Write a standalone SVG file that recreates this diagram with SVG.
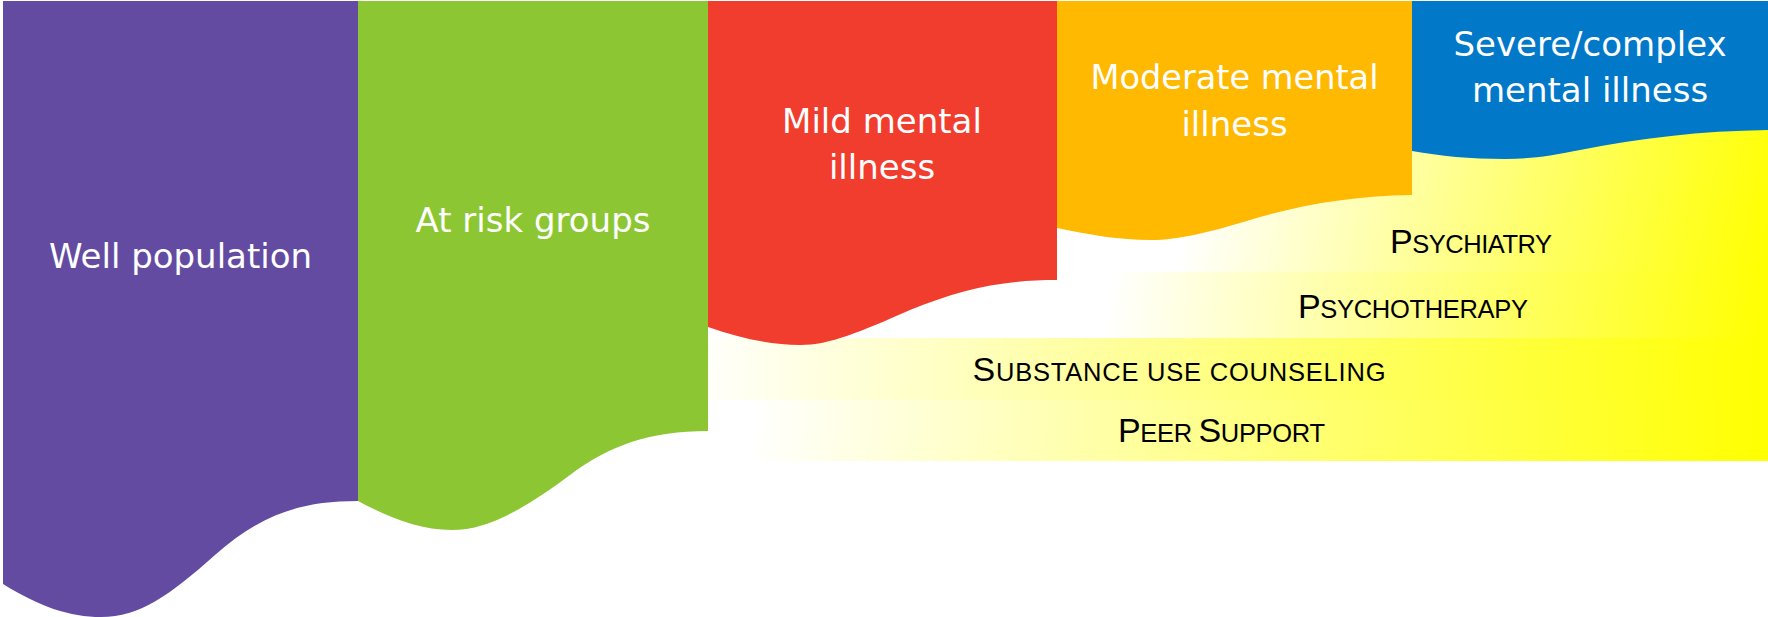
<svg xmlns="http://www.w3.org/2000/svg" width="1768" height="617" viewBox="0 0 1768 617">
  <defs>
    <linearGradient id="g1" gradientUnits="userSpaceOnUse" x1="1200" y1="150" x2="1768" y2="272">
      <stop offset="0" stop-color="#ffffff"/>
      <stop offset="1" stop-color="#ffff00"/>
    </linearGradient>
    <linearGradient id="g2" gradientUnits="userSpaceOnUse" x1="1110" y1="272" x2="1768" y2="338">
      <stop offset="0" stop-color="#ffffff"/>
      <stop offset="1" stop-color="#ffff00"/>
    </linearGradient>
    <linearGradient id="g3" gradientUnits="userSpaceOnUse" x1="690" y1="338" x2="1768" y2="400">
      <stop offset="0" stop-color="#ffffff"/>
      <stop offset="1" stop-color="#ffff00"/>
    </linearGradient>
    <linearGradient id="g4" gradientUnits="userSpaceOnUse" x1="750" y1="400" x2="1768" y2="461">
      <stop offset="0" stop-color="#ffffff"/>
      <stop offset="1" stop-color="#ffff00"/>
    </linearGradient>
  </defs>
  <style>
    .lbl { font-family: "DejaVu Sans", Verdana, sans-serif; font-size: 34px; fill: #ffffff; text-anchor: middle; }
    .svc { font-family: "Liberation Sans", Arial, sans-serif; font-size: 25.5px; fill: #000000; }
    .cap { font-size: 34px; }
  </style>
  <rect x="0" y="0" width="1768" height="617" fill="#ffffff"/>

  <g id="bands">
    <g id="band-psychiatry">
      <rect x="1057" y="110" width="711" height="162" fill="url(#g1)"/>
      <text class="svc" x="1390" y="253" textLength="162" lengthAdjust="spacing"><tspan class="cap">P</tspan>SYCHIATRY</text>
    </g>
    <g id="band-psychotherapy">
      <rect x="1057" y="272" width="711" height="66" fill="url(#g2)"/>
      <text class="svc" x="1298" y="318" textLength="230" lengthAdjust="spacing"><tspan class="cap">P</tspan>SYCHOTHERAPY</text>
    </g>
    <g id="band-substance">
      <rect x="708" y="338" width="1060" height="62" fill="url(#g3)"/>
      <text class="svc" x="972.5" y="381" textLength="413" lengthAdjust="spacing"><tspan class="cap">S</tspan>UBSTANCE USE COUNSELING</text>
    </g>
    <g id="band-peer">
      <rect x="708" y="400" width="1060" height="61" fill="url(#g4)"/>
      <text class="svc" x="1118" y="442" textLength="207" lengthAdjust="spacing"><tspan class="cap">P</tspan>EER <tspan class="cap">S</tspan>UPPORT</text>
    </g>
  </g>

  <g id="well">
    <path d="M3,1 H358 V501 C300,501 260,515 215,555 C170,595 140,617 101,617 C70,617 40,607 3,584 Z" fill="#634ba2"/>
    <text class="lbl" x="180.5" y="268">Well population</text>
  </g>
  <g id="atrisk">
    <path d="M358,1 H708 V431 C650,431 610,445 570,475 C530,505 490,530 452,530 C420,530 390,518 358,501 Z" fill="#8cc733"/>
    <text class="lbl" x="533" y="232">At risk groups</text>
  </g>
  <g id="mild">
    <path d="M708,1 H1057 V280 C1000,280 960,290 910,310 C860,332 830,345 800,345 C770,345 740,338 708,327 Z" fill="#f13d2e"/>
    <text class="lbl" x="882" y="133">Mild mental</text>
    <text class="lbl" x="882" y="179">illness</text>
  </g>
  <g id="moderate">
    <path d="M1057,1 H1412 V195 C1350,196 1300,205 1250,220 C1210,232 1180,240 1150,240 C1120,240 1090,235 1057,228 Z" fill="#ffb900"/>
    <text class="lbl" x="1234.5" y="89" textLength="288" lengthAdjust="spacingAndGlyphs">Moderate mental</text>
    <text class="lbl" x="1234.5" y="136">illness</text>
  </g>
  <g id="severe">
    <path d="M1412,1 H1768 V130 C1700,131 1640,138 1580,150 C1550,156 1530,159 1505,159 C1470,159 1440,156 1412,151 Z" fill="#0178c8"/>
    <text class="lbl" x="1590" y="56">Severe/complex</text>
    <text class="lbl" x="1590" y="102">mental illness</text>
  </g>

  <g id="connectors"></g>
</svg>
